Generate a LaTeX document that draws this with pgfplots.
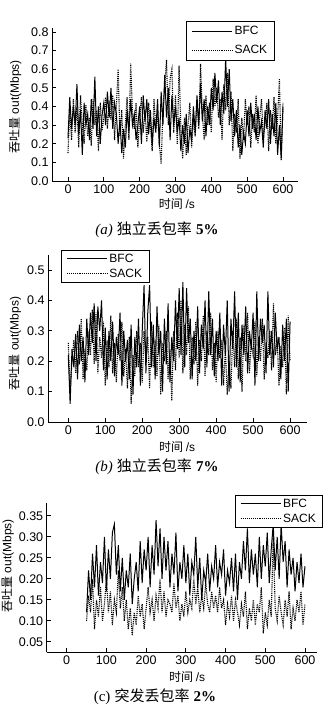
\documentclass[border=0pt]{standalone}
\usepackage{fontspec}
\setmainfont{Liberation Sans}
\newfontfamily\cjk{Noto Sans CJK SC}
\newfontfamily\serif{Liberation Serif}
\usepackage{pgfplots}
\usepackage{pgfplotstable}
\pgfplotsset{compat=1.18}

\pgfplotstableread{
t bfc sack
0 0.23 0.15
5 0.45 0.38
10 0.28 0.22
15 0.40 0.44
20 0.30 0.26
25 0.52 0.40
30 0.25 0.18
35 0.38 0.46
40 0.14 0.30
45 0.42 0.20
50 0.30 0.41
55 0.36 0.24
60 0.22 0.34
65 0.44 0.19
70 0.28 0.44
75 0.56 0.30
80 0.24 0.38
85 0.40 0.16
90 0.20 0.42
95 0.35 0.27
100 0.42 0.34
105 0.30 0.45
110 0.48 0.28
115 0.34 0.43
120 0.50 0.33
125 0.28 0.46
130 0.42 0.22
135 0.36 0.40
140 0.20 0.60
145 0.33 0.24
150 0.15 0.38
155 0.28 0.12
160 0.18 0.30
165 0.38 0.45
170 0.26 0.22
175 0.44 0.63
180 0.30 0.36
185 0.36 0.28
190 0.22 0.42
195 0.30 0.18
200 0.40 0.34
205 0.20 0.45
210 0.46 0.26
215 0.32 0.38
220 0.44 0.21
225 0.25 0.42
230 0.38 0.30
235 0.19 0.16
240 0.34 0.44
245 0.26 0.28
250 0.44 0.36
255 0.18 0.20
260 0.48 0.09
265 0.30 0.38
270 0.57 0.52
275 0.34 0.65
280 0.50 0.30
285 0.22 0.55
290 0.46 0.60
295 0.30 0.26
300 0.40 0.46
305 0.26 0.20
310 0.34 0.62
315 0.16 0.28
320 0.30 0.12
325 0.20 0.34
330 0.36 0.14
335 0.15 0.30
340 0.28 0.42
345 0.22 0.18
350 0.40 0.34
355 0.26 0.24
360 0.46 0.42
365 0.30 0.28
370 0.52 0.63
375 0.32 0.36
380 0.44 0.22
385 0.24 0.46
390 0.40 0.30
395 0.30 0.42
400 0.50 0.26
405 0.38 0.55
410 0.58 0.40
415 0.42 0.50
420 0.54 0.34
425 0.30 0.44
430 0.48 0.22
435 0.36 0.52
440 0.66 0.38
445 0.40 0.58
450 0.60 0.30
455 0.32 0.48
460 0.44 0.16
465 0.24 0.36
470 0.38 0.26
475 0.18 0.44
480 0.30 0.12
485 0.14 0.34
490 0.26 0.22
495 0.20 0.44
500 0.38 0.30
505 0.24 0.40
510 0.42 0.18
515 0.28 0.36
520 0.36 0.26
525 0.22 0.46
530 0.40 0.20
535 0.26 0.34
540 0.32 0.44
545 0.18 0.24
550 0.38 0.30
555 0.28 0.42
560 0.44 0.16
565 0.20 0.38
570 0.36 0.28
575 0.24 0.45
580 0.42 0.20
585 0.14 0.34
590 0.30 0.55
595 0.12 0.11
600 0.40 0.42
}\dataA

\pgfplotstableread{
t bfc sack
0 0.22 0.26
5 0.06 0.10
10 0.24 0.20
15 0.18 0.27
20 0.29 0.16
25 0.14 0.30
30 0.32 0.19
35 0.20 0.34
40 0.28 0.14
45 0.13 0.24
50 0.34 0.17
55 0.22 0.30
60 0.36 0.22
65 0.26 0.37
70 0.39 0.19
75 0.20 0.36
80 0.38 0.16
85 0.30 0.28
90 0.40 0.21
95 0.17 0.33
100 0.31 0.12
105 0.14 0.27
110 0.30 0.18
115 0.20 0.35
120 0.33 0.16
125 0.15 0.26
130 0.28 0.13
135 0.22 0.29
140 0.36 0.20
145 0.12 0.33
150 0.30 0.15
155 0.20 0.24
160 0.27 0.11
165 0.14 0.28
170 0.32 0.06
175 0.09 0.22
180 0.28 0.15
185 0.18 0.30
190 0.34 0.18
195 0.12 0.26
200 0.30 0.13
205 0.45 0.30
210 0.16 0.20
215 0.36 0.28
220 0.45 0.11
225 0.18 0.33
230 0.32 0.18
235 0.14 0.27
240 0.38 0.15
245 0.22 0.32
250 0.30 0.09
255 0.10 0.26
260 0.34 0.20
265 0.19 0.30
270 0.39 0.14
275 0.13 0.24
280 0.28 0.07
285 0.20 0.30
290 0.40 0.17
295 0.24 0.36
300 0.44 0.21
305 0.22 0.40
310 0.46 0.16
315 0.18 0.32
320 0.44 0.22
325 0.26 0.38
330 0.34 0.14
335 0.14 0.28
340 0.30 0.19
345 0.20 0.33
350 0.38 0.12
355 0.16 0.27
360 0.32 0.20
365 0.24 0.35
370 0.40 0.15
375 0.18 0.30
380 0.43 0.22
385 0.22 0.36
390 0.34 0.17
395 0.15 0.26
400 0.30 0.13
405 0.20 0.30
410 0.36 0.21
415 0.12 0.27
420 0.32 0.12
425 0.22 0.24
430 0.40 0.09
435 0.10 0.20
440 0.34 0.11
445 0.24 0.30
450 0.43 0.18
455 0.18 0.34
460 0.36 0.14
465 0.13 0.28
470 0.32 0.10
475 0.22 0.32
480 0.38 0.20
485 0.16 0.36
490 0.30 0.16
495 0.24 0.26
500 0.36 0.22
505 0.12 0.33
510 0.43 0.15
515 0.20 0.28
520 0.34 0.20
525 0.26 0.34
530 0.32 0.14
535 0.16 0.26
540 0.43 0.21
545 0.22 0.30
550 0.30 0.17
555 0.18 0.39
560 0.36 0.22
565 0.24 0.28
570 0.28 0.12
575 0.14 0.25
580 0.32 0.18
585 0.20 0.31
590 0.34 0.09
595 0.10 0.35
600 0.33 0.20
}\dataB

\pgfplotstableread{
t bfc sack
50 0.12 0.10
55 0.22 0.16
60 0.15 0.12
65 0.26 0.20
70 0.18 0.08
75 0.28 0.15
80 0.16 0.11
85 0.24 0.18
90 0.19 0.10
95 0.30 0.14
100 0.17 0.20
105 0.27 0.12
110 0.20 0.17
115 0.31 0.09
120 0.33 0.15
125 0.21 0.12
130 0.28 0.22
135 0.17 0.13
140 0.25 0.18
145 0.15 0.10
150 0.22 0.15
155 0.18 0.08
160 0.26 0.13
165 0.14 0.065
170 0.20 0.12
175 0.24 0.09
180 0.17 0.16
185 0.29 0.11
190 0.19 0.14
195 0.27 0.08
200 0.22 0.13
205 0.30 0.18
210 0.18 0.12
215 0.28 0.15
220 0.21 0.10
225 0.34 0.16
230 0.23 0.13
235 0.32 0.20
240 0.20 0.12
245 0.30 0.17
250 0.22 0.11
255 0.29 0.15
260 0.18 0.14
265 0.26 0.12
270 0.21 0.19
275 0.31 0.13
280 0.17 0.16
285 0.24 0.10
290 0.20 0.14
295 0.28 0.11
300 0.19 0.17
305 0.26 0.12
310 0.16 0.15
315 0.24 0.13
320 0.21 0.20
325 0.30 0.14
330 0.18 0.18
335 0.25 0.12
340 0.15 0.16
345 0.22 0.13
350 0.19 0.19
355 0.26 0.14
360 0.17 0.12
365 0.23 0.17
370 0.20 0.13
375 0.28 0.16
380 0.18 0.12
385 0.24 0.18
390 0.21 0.13
395 0.27 0.15
400 0.16 0.09
405 0.22 0.14
410 0.19 0.11
415 0.25 0.16
420 0.17 0.10
425 0.26 0.15
430 0.15 0.12
435 0.24 0.09
440 0.20 0.14
445 0.29 0.11
450 0.22 0.17
455 0.32 0.08
460 0.19 0.13
465 0.27 0.10
470 0.21 0.15
475 0.26 0.09
480 0.18 0.14
485 0.30 0.12
490 0.20 0.18
495 0.28 0.07
500 0.23 0.12
505 0.31 0.09
510 0.19 0.15
515 0.27 0.11
520 0.33 0.30
525 0.22 0.13
530 0.30 0.10
535 0.20 0.16
540 0.33 0.12
545 0.24 0.09
550 0.29 0.15
555 0.18 0.11
560 0.27 0.17
565 0.21 0.08
570 0.25 0.13
575 0.17 0.10
580 0.24 0.15
585 0.19 0.12
590 0.26 0.17
595 0.18 0.09
600 0.23 0.14
}\dataC

\pgfplotsset{
  every axis/.append style={
    scale only axis,
    anchor=south west,
    axis x line*=bottom,
    axis y line*=left,
    tick align=inside,
    major tick length=4pt,
    axis line style={line width=0.9pt},
    every tick/.style={line width=0.8pt,black},
    tick label style={font=\fontsize{12.5}{14}\selectfont},
    /pgf/number format/assume math mode=true,
    xtick={0,100,...,600},
    label style={font=\fontsize{12}{14}\selectfont},
    legend cell align=left,
    legend image code/.code={\draw[#1] (0pt,0pt) -- (40pt,0pt);},
  },
  bfc/.style={black,line width=1.0pt},
  sack/.style={black,line width=1.1pt,densely dotted},
}

\begin{document}
\begin{tikzpicture}
\useasboundingbox (0,0) rectangle (329pt,712pt);

% (a)
\begin{axis}[
  at={(52pt,531pt)}, width=246pt, height=152.7pt,
  xmin=-44.6, xmax=641.9, ymin=0, ymax=0.82,
  ytick={0,0.1,...,0.8},
  yticklabel style={/pgf/number format/.cd,fixed,fixed zerofill,precision=1},
  xlabel={\cjk 时间 \rmfamily/s},
  ylabel={{\cjk 吞吐量} out(Mbps)},
  xlabel style={at={(axis description cs:0.508,-0.151)},anchor=center},
  ylabel style={at={(axis description cs:-0.150,0.485)},anchor=center},
  legend style={at={(0.545,1.048)},anchor=north west,draw=black,line width=0.8pt,
    font=\fontsize{12}{14}\selectfont,inner xsep=5pt,inner ysep=3pt,
    row sep=5pt},
]
\addplot[bfc] table[x=t,y=bfc]{\dataA};
\addplot[sack] table[x=t,y=sack]{\dataA};
\legend{BFC,SACK}
\end{axis}
\node[font=\fontsize{15}{17}\selectfont] at (157pt,482pt) {{\serif\itshape (a)} {\cjk 独立丢包率} {\serif\bfseries 5\%}};

% (b)
\begin{axis}[
  at={(48pt,290pt)}, width=258.7pt, height=167.2pt,
  xmin=-54.9, xmax=645, ymin=0, ymax=0.55,
  ytick={0,0.1,...,0.5},
  yticklabel style={/pgf/number format/.cd,fixed,fixed zerofill,precision=1},
  xlabel={\cjk 时间 \rmfamily/s},
  ylabel={{\cjk 吞吐量} out(Mbps)},
  xlabel style={at={(axis description cs:0.499,-0.150)},anchor=center},
  ylabel style={at={(axis description cs:-0.128,0.47)},anchor=center},
  legend style={at={(0.05,1.029)},anchor=north west,draw=black,line width=0.8pt,
    font=\fontsize{12}{14}\selectfont,inner xsep=5pt,inner ysep=1.5pt,
    row sep=1pt},
]
\addplot[bfc] table[x=t,y=bfc]{\dataB};
\addplot[sack] table[x=t,y=sack]{\dataB};
\legend{BFC,SACK}
\end{axis}
\node[font=\fontsize{15}{17}\selectfont] at (157pt,245pt) {{\serif\itshape (b)} {\cjk 独立丢包率} {\serif\bfseries 7\%}};

% (c)
\begin{axis}[
  at={(46.7pt,59.7pt)}, width=270pt, height=149pt,
  xmin=-50.4, xmax=629.5, ymin=0.025, ymax=0.38,
  ytick={0.05,0.10,...,0.36},
  yticklabel style={/pgf/number format/.cd,fixed,fixed zerofill,precision=2},
  xlabel={\cjk 时间 \rmfamily/s},
  ylabel={{\cjk 吞吐量} out(Mbps)},
  xlabel style={at={(axis description cs:0.52,-0.166)},anchor=center},
  ylabel style={at={(axis description cs:-0.145,0.58)},anchor=center},
  legend style={at={(0.696,1.056)},anchor=north west,draw=black,line width=0.8pt,
    font=\fontsize{12}{14}\selectfont,inner xsep=5pt,inner ysep=1.5pt,
    row sep=1pt},
]
\addplot[bfc] table[x=t,y=bfc]{\dataC};
\addplot[sack] table[x=t,y=sack]{\dataC};
\legend{BFC,SACK}
\end{axis}
\node[font=\fontsize{15}{17}\selectfont] at (155pt,15pt) {{\serif (c)} {\cjk 突发丢包率} {\serif\bfseries 2\%}};
\end{tikzpicture}
\end{document}
